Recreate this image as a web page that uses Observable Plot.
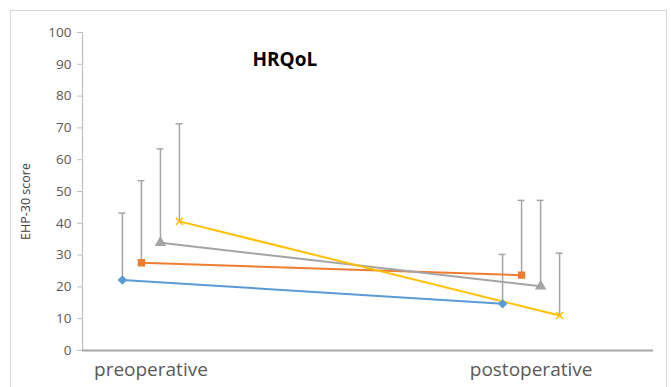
<!DOCTYPE html>
<html>
<head>
<meta charset="utf-8">
<script src="https://cdn.jsdelivr.net/npm/d3@7"></script>
<script src="https://cdn.jsdelivr.net/npm/@observablehq/plot@0.6"></script>
<style>
  html, body { margin: 0; padding: 0; background: #fff; }
  #wrap { position: relative; width: 671px; height: 387px; overflow: hidden; }
  #frame { position: absolute; left: 10px; top: 10px; width: 657px; height: 420px; border: 1px solid #d9d9d9; box-sizing: border-box; }
  #chart { position: absolute; left: 0; top: 0; }
</style>
</head>
<body>
<div id="wrap"><div id="frame"></div><div id="chart"></div></div>
<script>
const categories = ["preoperative", "postoperative"];
const seriesNames = ["Series 1", "Series 2", "Series 3", "Series 4"];
const seriesColors = ["#5B9BD5", "#ED7D31", "#A5A5A5", "#FFC000"];
const seriesSymbols = ["diamond2", "square", "triangle", "times"];
const meanS1 = [22.2, 14.7];
const meanS2 = [27.6, 23.7];
const meanS3 = [33.9, 20.2];
const meanS4 = [40.6, 11.0];
const sdS1 = [21.0, 15.5];
const sdS2 = [25.8, 23.5];
const sdS3 = [29.5, 27.0];
const sdS4 = [30.7, 19.6];
const yTicks = [0, 10, 20, 30, 40, 50, 60, 70, 80, 90, 100];

const means = [meanS1, meanS2, meanS3, meanS4];
const sds = [sdS1, sdS2, sdS3, sdS4];
const offset = 0.05;
const capHalf = 0.009;
const rows = [];
seriesNames.forEach((s, si) => {
  categories.forEach((c, ci) => {
    const x = ci + (si - 1.5) * offset;
    rows.push({series: s, si, ci, x, y: means[si][ci], top: means[si][ci] + sds[si][ci]});
  });
});
const xDomain = [-0.18, 1.322];

const chart = Plot.plot({
  width: 671,
  height: 387,
  marginLeft: 82,
  marginRight: 18,
  marginTop: 32,
  marginBottom: 37,
  style: {background: "transparent", fontFamily: "'Open Sans', sans-serif"},
  x: {domain: xDomain, axis: null},
  y: {domain: [0, 100], axis: null},
  color: {domain: seriesNames, range: seriesColors},
  symbol: {domain: seriesNames, range: seriesSymbols},
  marks: [
    Plot.ruleX([xDomain[0]], {y1: 0, y2: 100, stroke: "#bfbfbf", strokeWidth: 1.2}),
    Plot.axisY({ticks: yTicks, tickSize: 5, tickPadding: 6, stroke: "#bfbfbf", color: "#595959", fontSize: 13.5, label: null}),
    Plot.text(["EHP-30 score"], {frameAnchor: "left", textAnchor: "middle", dx: -57, dy: 10, rotate: -90, fontSize: 12.5, fill: "#404040"}),
    Plot.ruleY([0], {stroke: "#a6a6a6", strokeWidth: 2}),
    Plot.axisX({ticks: [0, 1], tickFormat: i => categories[i], tickSize: 0, tickPadding: 12, fontSize: 19, color: "#595959", label: null}),
    Plot.ruleX(rows, {x: "x", y1: "y", y2: "top", stroke: "#a5a5a5", strokeWidth: 1.5}),
    Plot.ruleY(rows, {y: "top", x1: d => d.x - capHalf, x2: d => d.x + capHalf, stroke: "#a5a5a5", strokeWidth: 1.5}),
    Plot.line(rows, {x: "x", y: "y", z: "series", stroke: "series", strokeWidth: 2}),
    Plot.dot(rows, {x: "x", y: "y", symbol: "series", fill: "series", stroke: "series", r: 3.3, strokeWidth: 1.5}),
    Plot.text(["HRQoL"], {frameAnchor: "top-left", dx: 170, dy: 20, fontSize: 19, fontWeight: "bold", fill: "#000"})
  ]
});
document.getElementById("chart").appendChild(chart);
</script>
</body>
</html>
